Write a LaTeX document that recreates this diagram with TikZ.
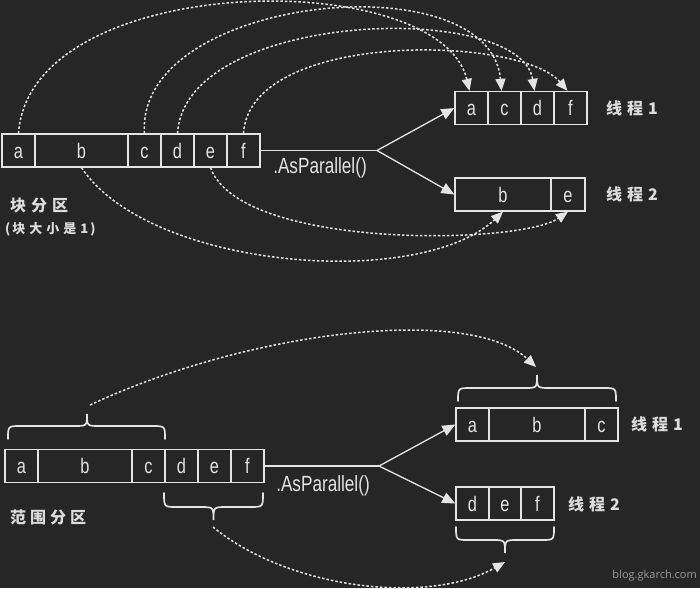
\documentclass[tikz,border=0pt]{standalone}
\usepackage{fontspec}
\setmainfont{Liberation Sans}[FakeStretch=0.78]
\newfontfamily\cjk{Noto Sans CJK SC}
\newfontfamily\wmfont{Open Sans}
\usetikzlibrary{arrows.meta}
\definecolor{bgc}{HTML}{262626}
\definecolor{fg}{HTML}{E4E4E4}
\definecolor{lab}{HTML}{DCDCDC}
\definecolor{wm}{HTML}{9A9A9A}
\begin{document}
\begin{tikzpicture}[x=1pt,y=-1pt,
  cell/.style={draw=fg,line width=1.3pt,minimum height=33pt,inner sep=0pt,text height=15pt,text depth=0pt,text=fg,font=\fontsize{21}{21}\selectfont},
  conn/.style={draw=fg,line width=1.3pt},
  arr/.style={conn,-{Triangle[length=13pt,width=11pt]}},
  dots/.style={draw=fg,line width=1.5pt,dash pattern=on 2.5pt off 2pt,-{Triangle[length=12pt,width=10pt]}},
  brace/.style={draw=fg,line width=1.7pt,line cap=round},
  lbl/.style={text=lab,font=\cjk\bfseries\fontsize{16}{16}\selectfont,inner sep=0pt},
  call/.style={text=fg,font=\fontsize{22}{22}\selectfont,inner sep=0pt}
]
\fill[bgc] (0,0) rectangle (700,588);
\useasboundingbox (0,0) rectangle (700,588);

% ---------- top: chunk partition ----------
\node[cell,minimum width=33pt] (ta) at (18.5,150.5) {a};
\node[cell,minimum width=93pt] (tb) at (81.5,150.5) {b};
\node[cell,minimum width=33pt] (tc) at (144.5,150.5) {c};
\node[cell,minimum width=33pt] (td) at (177.5,150.5) {d};
\node[cell,minimum width=33pt] (te) at (210.5,150.5) {e};
\node[cell,minimum width=33pt] (tf) at (243.5,150.5) {f};

\node[cell,minimum width=33pt] (p1a) at (471.5,108) {a};
\node[cell,minimum width=33pt] (p1c) at (504.5,108) {c};
\node[cell,minimum width=33pt] (p1d) at (537.5,108) {d};
\node[cell,minimum width=33pt] (p1f) at (570.5,108) {f};
\node[cell,minimum width=96pt] (p2b) at (503,194.5) {b};
\node[cell,minimum width=34pt] (p2e) at (568,194.5) {e};

\coordinate (th) at (377,150.5);
\draw[conn] (tf.east) -- (th);
\draw[arr] (th) -- (p1a.west);
\draw[arr] (th) -- (p2b.west);

\node[call] (ap1) at (320,168) {.AsParallel()};
\node[lbl,anchor=west] (l1) at (606,108) {线\hspace{5pt}程\hspace{5pt}1};
\node[lbl,anchor=west] (l2) at (606,194.5) {线\hspace{5pt}程\hspace{5pt}2};
\node[lbl,anchor=west] (k1) at (10,205) {块\hspace{5pt}分\hspace{5pt}区};
\node[lbl,anchor=west,font=\cjk\bfseries\fontsize{13}{13}\selectfont] (k2) at (5,229) {(\hspace{2pt}块\hspace{4pt}大\hspace{4pt}小\hspace{4pt}是\hspace{4pt}1\hspace{2pt})};

\draw[dots] (ta.north) .. controls (30,-30) and (440,-35) .. ([xshift=-2pt]p1a.north);
\draw[dots] (tc.north) .. controls (135,-5) and (490,-40) .. ([xshift=-3pt]p1c.north);
\draw[dots] (td.north) .. controls (185,10) and (520,0) .. ([xshift=-3pt]p1d.north);
\draw[dots] (tf.north) .. controls (250,30) and (520,35) .. ([xshift=-3pt]p1f.north);
\draw[dots] (tb.south) .. controls (150,270) and (420,290) .. (p2b.south);
\draw[dots] (te.south) .. controls (240,250) and (520,245) .. (p2e.south);

% ---------- bottom: range partition ----------
\node[cell,minimum width=33pt] (sa) at (21.5,466) {a};
\node[cell,minimum width=94pt] (sb) at (85,466) {b};
\node[cell,minimum width=33pt] (sc) at (148.5,466) {c};
\node[cell,minimum width=33pt] (sd) at (181.5,466) {d};
\node[cell,minimum width=33pt] (se) at (214.5,466) {e};
\node[cell,minimum width=33pt] (sf) at (247.5,466) {f};

\node[cell,minimum width=33pt] (q1a) at (472.5,424.5) {a};
\node[cell,minimum width=96pt] (q1b) at (537,424.5) {b};
\node[cell,minimum width=33pt] (q1c) at (601.5,424.5) {c};
\node[cell,minimum width=33pt] (q2d) at (472.5,503.5) {d};
\node[cell,minimum width=32pt] (q2e) at (505,503.5) {e};
\node[cell,minimum width=33pt] (q2f) at (537.5,503.5) {f};

\coordinate (sh) at (379,466);
\draw[conn] (sf.east) -- (sh);
\draw[arr] (sh) -- (q1a.west);
\draw[arr] (sh) -- (q2d.west);

\node[call] (ap2) at (323,486) {.AsParallel()};
\node[lbl,anchor=west] (m1) at (631,424.5) {线\hspace{5pt}程\hspace{5pt}1};
\node[lbl,anchor=west] (m2) at (568,504) {线\hspace{5pt}程\hspace{5pt}2};
\node[lbl,anchor=west] (r1) at (10,517) {范\hspace{4pt}围\hspace{4pt}分\hspace{4pt}区};

% braces
\draw[brace] (8,439) .. controls (8,426) .. (21,426) -- (74,426) .. controls (87,426) .. (87,414) .. controls (87,426) .. (100,426) -- (152,426) .. controls (165,426) .. (165,439);
\draw[brace] (458,401) .. controls (458,388) .. (471,388) -- (524,388) .. controls (537,388) .. (537,375) .. controls (537,388) .. (550,388) -- (603,388) .. controls (616,388) .. (616,401);
\draw[brace] (164,493) .. controls (164,507) .. (177,507) -- (200,507) .. controls (213.5,507) .. (213.5,520) .. controls (213.5,507) .. (227,507) -- (250,507) .. controls (263,507) .. (263,493);
\draw[brace] (456,527) .. controls (456,540) .. (469,540) -- (492,540) .. controls (505,540) .. (505,553) .. controls (505,540) .. (518,540) -- (541,540) .. controls (554,540) .. (554,527);

\coordinate (u1) at (90,405);
\coordinate (u2) at (536,367);
\draw[dots] (u1) .. controls (250,330) and (470,305) .. (u2);
\coordinate (v1) at (213,527);
\coordinate (v2) at (505,562);
\draw[dots] (v1) .. controls (290,590) and (430,605) .. (v2);

\node[text=wm,font=\wmfont\fontsize{11}{11}\selectfont,anchor=east,inner sep=0pt] (wmk) at (697,576) {blog.gkarch.com};
\end{tikzpicture}
\end{document}
